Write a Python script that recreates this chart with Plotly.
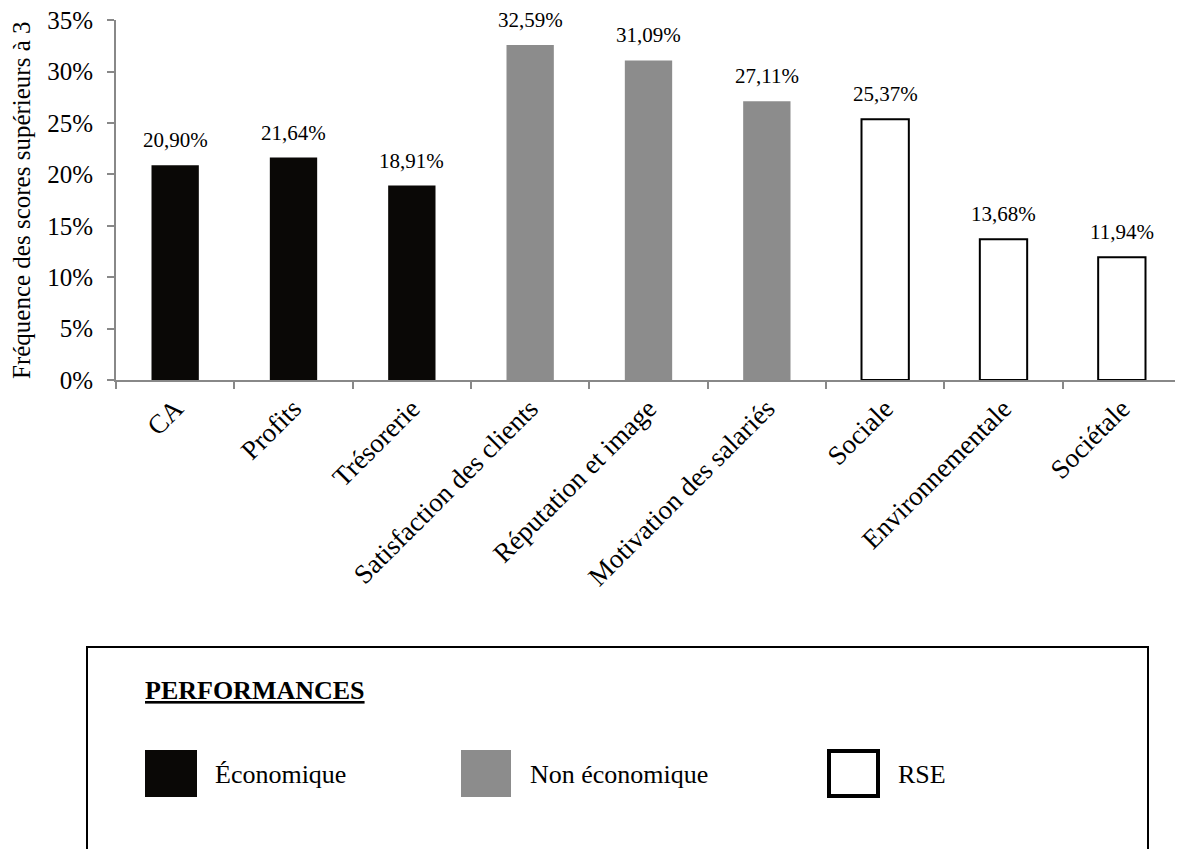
import plotly.graph_objects as go

categories = ["CA", "Profits", "Trésorerie", "Satisfaction des clients", "Réputation et image",
              "Motivation des salariés", "Sociale", "Environnementale", "Sociétale"]
values = [20.90, 21.64, 18.91, 32.59, 31.09, 27.11, 25.37, 13.68, 11.94]
groups = ["Économique"] * 3 + ["Non économique"] * 3 + ["RSE"] * 3
y_ticks = [0, 5, 10, 15, 20, 25, 30, 35]

FONT = "Liberation Serif"
fill = {"Économique": "#0a0806", "Non économique": "#8c8c8c", "RSE": "#ffffff"}

labels = [f"{v:.2f}".replace(".", ",") + "%" for v in values]

fig = go.Figure()
fig.add_trace(go.Bar(
    x=categories,
    y=values,
    marker=dict(color=[fill[g] for g in groups],
                line=dict(color="#000000", width=[0, 0, 0, 0, 0, 0, 2, 2, 2])),
    cliponaxis=False,
    showlegend=False,
))

# page has an 8px body margin; plot area on page: x 116..1181, y 20..380
W, H = 1065, 360
def px(x):
    return (x - 116) / W
def py(y):
    return (380 - y) / H

shapes = [
    dict(type="rect", xref="paper", yref="paper", x0=px(87), x1=px(1148), y0=py(647), y1=py(870),
         line=dict(color="#000", width=2), fillcolor="rgba(0,0,0,0)"),
    dict(type="rect", xref="paper", yref="paper", x0=px(145), x1=px(197), y0=py(750), y1=py(797),
         line=dict(width=0), fillcolor=fill["Économique"]),
    dict(type="rect", xref="paper", yref="paper", x0=px(461), x1=px(511), y0=py(750), y1=py(797),
         line=dict(width=0), fillcolor=fill["Non économique"]),
    dict(type="rect", xref="paper", yref="paper", x0=px(829), x1=px(878), y0=py(751), y1=py(796),
         line=dict(color="#000", width=4), fillcolor="#fff"),
]
annotations = [
    dict(text="<b><u>PERFORMANCES</u></b>", xref="paper", yref="paper", x=px(143), y=py(690),
         xanchor="left", yanchor="middle", showarrow=False, font=dict(family=FONT, size=26, color="#000")),
    dict(text="Fréquence des scores supérieurs à 3", xref="paper", yref="paper", x=px(21), y=py(200),
         xanchor="center", yanchor="middle", textangle=-90, showarrow=False,
         font=dict(family=FONT, size=25, color="#000")),
]
for name, xl in [("Économique", 213), ("Non économique", 528), ("RSE", 896)]:
    annotations.append(dict(text=name, xref="paper", yref="paper", x=px(xl), y=py(774),
                            xanchor="left", yanchor="middle", showarrow=False,
                            font=dict(family=FONT, size=26, color="#000")))

# value labels above bars
for cat, v, lab in zip(categories, values, labels):
    annotations.append(dict(text=lab, x=cat, y=v, xref="x", yref="y", yanchor="bottom",
                            yshift=11, showarrow=False, font=dict(family=FONT, size=21, color="#000")))

fig.update_layout(
    width=1175, height=841,
    margin=dict(l=108, r=2, t=12, b=469),
    plot_bgcolor="#fff", paper_bgcolor="#fff",
    font=dict(family=FONT, color="#000"),
    bargap=0.6,
    shapes=shapes,
    annotations=annotations,
    xaxis=dict(showline=True, linecolor="#888", linewidth=2, ticks="outside", ticklen=7,
               tickcolor="#888", tickwidth=2, tickson="boundaries", tickangle=-45,
               tickfont=dict(family=FONT, size=27, color="#000"), showgrid=False,
               automargin=False),
    yaxis=dict(range=[0, 35.02], tickvals=y_ticks, ticktext=[f"{t}%" for t in y_ticks],
               showline=True, linecolor="#888", linewidth=2, ticks="outside", ticklen=7,
               tickcolor="#888", tickwidth=2, showgrid=False, zeroline=False,
               ticklabeloverflow="allow", ticklabelstandoff=9,
               tickfont=dict(family=FONT, size=25, color="#000"), automargin=False),
)

fig.write_html("out.html")
